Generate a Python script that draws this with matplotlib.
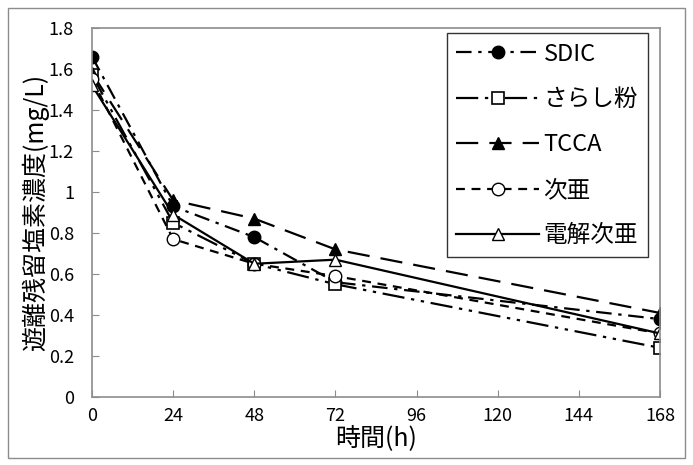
import numpy as np
import matplotlib
matplotlib.use("Agg")
import matplotlib.pyplot as plt
from matplotlib.patches import Rectangle

plt.rcParams['font.family'] = ['Noto Sans CJK JP', 'DejaVu Sans']

hours = [0, 24, 48, 72, 168]
sdic = [1.66, 0.93, 0.78, 0.56, 0.38]
sarashi = [1.57, 0.85, 0.65, 0.55, 0.24]
tcca = [1.58, 0.96, 0.87, 0.72, 0.41]
jia = [1.55, 0.77, 0.65, 0.59, 0.31]
denkai = [1.52, 0.89, 0.65, 0.67, 0.31]

labels = ['SDIC', 'さらし粉', 'TCCA', '次亜', '電解次亜']
xticks = [0, 24, 48, 72, 96, 120, 144, 168]
yticks = [0, 0.2, 0.4, 0.6, 0.8, 1.0, 1.2, 1.4, 1.6, 1.8]
ytick_labels = ['0', '0.2', '0.4', '0.6', '0.8', '1', '1.2', '1.4', '1.6', '1.8']

fig = plt.figure(figsize=(6.93, 4.65), dpi=100)
ax = fig.add_axes([0.1328, 0.1462, 0.8196, 0.7936])

# outer frame round the whole chart
fig.add_artist(Rectangle((0.011, 0.015), 0.978, 0.968, transform=fig.transFigure,
                         fill=False, edgecolor='#8c8c8c', linewidth=1))

lw = 1.6
ax.plot(hours, sdic, color='black', lw=lw, dashes=(7, 3, 1.5, 3),
        marker='o', ms=9, mfc='black', mec='black', label=labels[0])
ax.plot(hours, sarashi, color='black', lw=lw, dashes=(10, 3, 1.5, 3, 1.5, 3),
        marker='s', ms=8.5, mfc='white', mec='black', mew=1.2, label=labels[1])
ax.plot(hours, tcca, color='black', lw=lw, dashes=(10, 5),
        marker='^', ms=9, mfc='black', mec='black', label=labels[2])
ax.plot(hours, jia, color='black', lw=lw, dashes=(4, 3),
        marker='o', ms=9, mfc='white', mec='black', mew=1.0, label=labels[3])
ax.plot(hours, denkai, color='black', lw=lw,
        marker='^', ms=9, mfc='white', mec='black', mew=1.0, label=labels[4])

ax.set_xlim(0, 168)
ax.set_ylim(0, 1.8)
ax.set_xticks(xticks)
ax.set_yticks(yticks)
ax.set_yticklabels(ytick_labels)
ax.tick_params(direction='in', length=5, color='#8c8c8c', labelsize=13)
ax.tick_params(axis='x', pad=7)
ax.tick_params(axis='y', pad=13)
for s in ax.spines.values():
    s.set_color('#8c8c8c')
    s.set_linewidth(1.2)

ax.set_xlabel('時間(h)', fontsize=18, labelpad=0)
ax.set_ylabel('遊離残留塩素濃度(mg/L)', fontsize=18, labelpad=0)

leg = ax.legend(loc='upper right', bbox_to_anchor=(0.978, 0.986), fontsize=17,
                frameon=True, fancybox=False, edgecolor='black', handlelength=3.5,
                labelspacing=0.95, borderpad=0.4, handletextpad=0.2,
                borderaxespad=0)
leg.get_frame().set_linewidth(1.0)

fig.savefig('out.png', dpi=100)
